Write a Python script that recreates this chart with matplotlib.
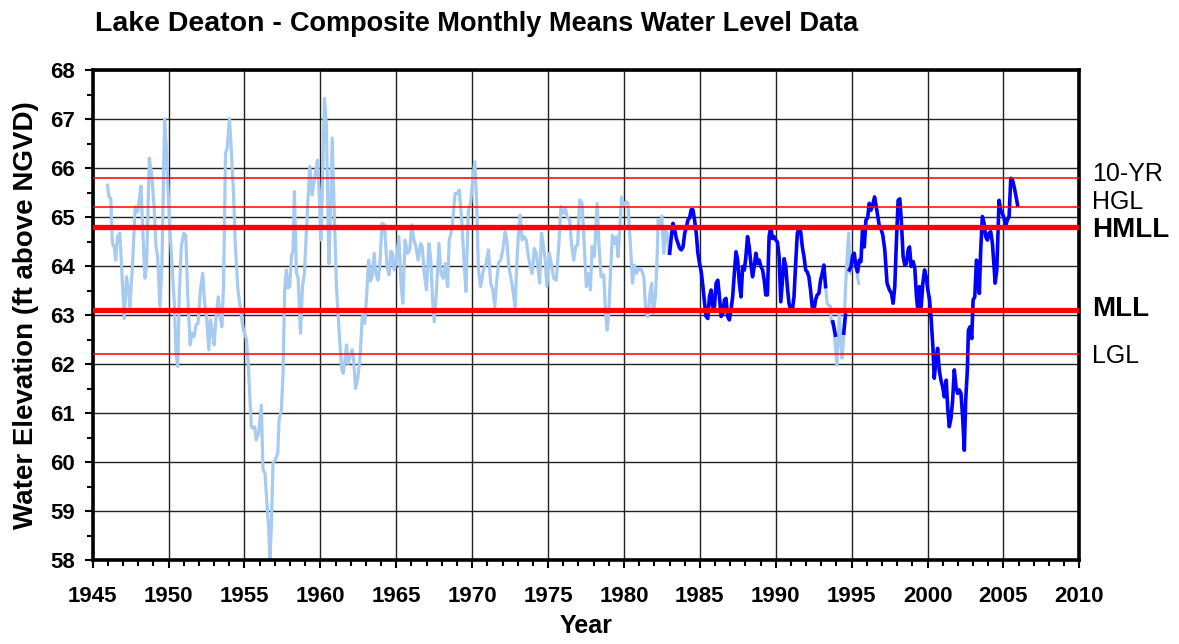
import numpy as np
import matplotlib
matplotlib.use("Agg")
from matplotlib import pyplot as plt
from matplotlib.ticker import MultipleLocator
import matplotlib.transforms as mtransforms

plt.rcParams['font.family'] = ['Liberation Sans', 'DejaVu Sans']

# composite record (light blue)
comp_years = [
    1945.97, 1946.08, 1946.19, 1946.30, 1946.41, 1946.52, 1946.63, 1946.79, 1946.97, 1947.08,
    1947.23, 1947.36, 1947.45, 1947.63, 1947.80, 1947.96, 1948.07, 1948.18, 1948.29, 1948.44,
    1948.55, 1948.73, 1948.88, 1949.06, 1949.17, 1949.28, 1949.43, 1949.56, 1949.74, 1949.87,
    1950.05, 1950.23, 1950.38, 1950.49, 1950.60, 1950.71, 1950.84, 1951.00, 1951.13, 1951.26,
    1951.42, 1951.55, 1951.68, 1951.81, 1951.94, 1952.10, 1952.25, 1952.36, 1952.52, 1952.65,
    1952.76, 1952.87, 1953.00, 1953.13, 1953.27, 1953.40, 1953.51, 1953.62, 1953.75, 1953.86,
    1954.01, 1954.12, 1954.28, 1954.39, 1954.57, 1954.72, 1954.83, 1954.94, 1955.12, 1955.25,
    1955.34, 1955.45, 1955.56, 1955.67, 1955.78, 1955.93, 1956.11, 1956.22, 1956.35, 1956.48,
    1956.59, 1956.68, 1956.77, 1956.88, 1957.06, 1957.19, 1957.28, 1957.43, 1957.54, 1957.65,
    1957.76, 1957.87, 1957.98, 1958.09, 1958.20, 1958.29, 1958.42, 1958.53, 1958.69, 1958.82,
    1958.95, 1959.08, 1959.30, 1959.46, 1959.63, 1959.81, 1959.92, 1960.03, 1960.12, 1960.27,
    1960.40, 1960.56, 1960.67, 1960.78, 1960.91, 1961.07, 1961.24, 1961.40, 1961.50, 1961.61,
    1961.72, 1961.83, 1961.97, 1962.10, 1962.19, 1962.32, 1962.48, 1962.63, 1962.76, 1962.92,
    1963.03, 1963.18, 1963.29, 1963.40, 1963.54, 1963.65, 1963.80, 1963.91, 1964.06, 1964.22,
    1964.39, 1964.53, 1964.64, 1964.75, 1964.86, 1965.01, 1965.17, 1965.30, 1965.43, 1965.58,
    1965.74, 1965.89, 1966.02, 1966.16, 1966.29, 1966.44, 1966.60, 1966.71, 1966.84, 1966.99,
    1967.15, 1967.28, 1967.39, 1967.50, 1967.65, 1967.81, 1967.94, 1968.10, 1968.23, 1968.38,
    1968.49, 1968.65, 1968.76, 1968.87, 1969.02, 1969.15, 1969.31, 1969.46, 1969.59, 1969.75,
    1969.90, 1970.03, 1970.17, 1970.30, 1970.41, 1970.56, 1970.74, 1970.92, 1971.07, 1971.22,
    1971.36, 1971.49, 1971.62, 1971.75, 1971.88, 1972.02, 1972.17, 1972.28, 1972.41, 1972.54,
    1972.68, 1972.83, 1972.94, 1973.05, 1973.16, 1973.29, 1973.43, 1973.56, 1973.67, 1973.82,
    1973.96, 1974.09, 1974.22, 1974.33, 1974.44, 1974.57, 1974.70, 1974.81, 1974.92, 1975.08,
    1975.21, 1975.37, 1975.54, 1975.70, 1975.85, 1975.98, 1976.14, 1976.25, 1976.42, 1976.56,
    1976.69, 1976.82, 1976.95, 1977.08, 1977.24, 1977.39, 1977.52, 1977.68, 1977.79, 1977.90,
    1978.05, 1978.23, 1978.36, 1978.49, 1978.67, 1978.78, 1978.89, 1979.00, 1979.11, 1979.24,
    1979.37, 1979.50, 1979.61, 1979.73, 1979.84, 1979.97, 1980.15, 1980.26, 1980.43, 1980.56,
    1980.69, 1980.82, 1980.98, 1981.15, 1981.31, 1981.44, 1981.58, 1981.71, 1981.82, 1981.93,
    1982.07, 1982.20, 1982.25, 1982.36, 1982.49, 1982.62, 1982.73, 1982.84, 1982.97,
    np.nan,
    1993.28, 1993.38, 1993.49, 1993.60, 1993.67, 1993.82, 1993.93, 1994.02, 1994.11, 1994.19,
    1994.28, 1994.37, 1994.48, 1994.59, 1994.69, 1994.80, 1994.91, 1995.07, 1995.28, 1995.46,
]
comp_levels = [
    65.65, 65.41, 65.38, 64.46, 64.40, 64.12, 64.60, 64.67, 63.58, 62.93,
    63.78, 63.51, 63.17, 64.05, 65.21, 65.10, 65.35, 65.63, 64.80, 63.75,
    64.00, 66.20, 65.89, 65.14, 64.40, 64.19, 63.17, 64.00, 67.00, 66.30,
    64.94, 64.00, 63.24, 62.22, 61.95, 63.44, 64.40, 64.67, 64.63, 63.44,
    62.39, 62.63, 62.56, 62.80, 62.83, 63.51, 63.85, 63.31, 62.90, 62.29,
    62.90, 62.69, 62.39, 62.97, 63.37, 62.97, 62.76, 63.58, 66.30, 66.40,
    67.01, 66.43, 65.48, 64.46, 63.51, 63.17, 62.90, 62.69, 62.52, 62.01,
    61.40, 60.72, 60.69, 60.72, 60.45, 60.59, 61.16, 59.84, 59.77, 59.16,
    58.68, 58.00, 58.68, 59.97, 60.07, 60.18, 60.86, 61.06, 61.81, 63.51,
    63.92, 63.55, 63.58, 64.19, 64.33, 65.52, 63.85, 63.78, 62.63, 63.58,
    63.85, 64.73, 66.03, 65.45, 65.82, 66.16, 65.48, 64.53, 65.48, 67.42,
    66.84, 64.05, 65.14, 66.61, 65.14, 63.51, 62.63, 61.91, 61.81, 62.05,
    62.39, 62.01, 62.18, 62.29, 62.08, 61.50, 61.74, 62.22, 62.97, 62.83,
    63.31, 64.12, 63.69, 63.78, 64.26, 63.85, 63.71, 63.99, 64.87, 64.84,
    63.99, 63.82, 64.30, 64.26, 63.92, 64.12, 64.60, 63.71, 63.24, 64.53,
    64.26, 64.33, 64.84, 64.53, 64.40, 64.12, 64.46, 64.40, 63.85, 63.51,
    64.46, 64.12, 63.31, 62.86, 63.51, 64.46, 63.85, 63.75, 64.05, 63.58,
    64.53, 64.73, 65.07, 65.48, 65.48, 65.55, 64.94, 64.12, 63.48, 65.14,
    65.28, 65.76, 66.13, 65.28, 63.92, 63.58, 63.92, 64.05, 64.33, 63.65,
    63.51, 63.17, 63.71, 64.08, 64.12, 64.33, 64.70, 64.53, 63.99, 63.78,
    63.51, 63.17, 64.05, 64.67, 65.04, 64.53, 64.60, 64.53, 64.26, 63.99,
    63.85, 64.36, 64.26, 63.99, 63.65, 64.67, 64.40, 64.12, 63.58, 64.26,
    64.05, 63.75, 63.71, 64.40, 65.21, 65.07, 65.18, 65.01, 64.94, 64.40,
    64.12, 64.40, 64.43, 65.35, 65.28, 64.40, 63.58, 63.85, 63.51, 64.40,
    64.19, 65.28, 64.40, 63.78, 63.82, 63.10, 62.69, 63.03, 63.85, 64.63,
    64.46, 64.60, 64.19, 64.80, 65.41, 65.24, 65.31, 65.28, 64.40, 63.65,
    64.02, 63.85, 63.95, 63.92, 63.78, 63.03, 62.97, 63.44, 63.65, 63.03,
    63.37, 64.33, 64.94, 64.80, 65.02, 64.26, 64.73, 64.67, 64.26,
    np.nan,
    63.58, 63.24, 63.20, 63.17, 62.86, 62.76, 62.35, 61.98, 62.49, 63.03,
    62.49, 62.12, 62.63, 63.51, 64.12, 64.67, 63.85, 64.22, 63.99, 63.65,
]

# recent monthly record (dark blue)
recent_years = [
    1983.01, 1983.12, 1983.23, 1983.34, 1983.45, 1983.56, 1983.67, 1983.78, 1983.89, 1984.00,
    1984.10, 1984.21, 1984.32, 1984.43, 1984.54, 1984.65, 1984.76, 1984.87, 1984.98, 1985.09,
    1985.20, 1985.31, 1985.41, 1985.52, 1985.63, 1985.74, 1985.85, 1985.96, 1986.07, 1986.18,
    1986.29, 1986.40, 1986.51, 1986.62, 1986.72, 1986.83, 1986.94, 1987.05, 1987.16, 1987.27,
    1987.38, 1987.49, 1987.60, 1987.71, 1987.82, 1987.93, 1988.03, 1988.14, 1988.25, 1988.36,
    1988.47, 1988.58, 1988.69, 1988.80, 1988.91, 1989.02, 1989.13, 1989.24, 1989.34, 1989.45,
    1989.56, 1989.67, 1989.78, 1989.89, 1990.00, 1990.11, 1990.22, 1990.33, 1990.44, 1990.55,
    1990.66, 1990.76, 1990.87, 1990.98, 1991.09, 1991.20, 1991.31, 1991.42, 1991.53, 1991.64,
    1991.75, 1991.86, 1991.97, 1992.07, 1992.18, 1992.29, 1992.40, 1992.51, 1992.62, 1992.73,
    1992.84, 1992.95, 1993.06, 1993.17, 1993.28,
    np.nan, 1993.76, 1993.93,
    np.nan, 1994.48, 1994.59,
    np.nan, 1994.85, 1994.96, 1995.07, 1995.17, 1995.28, 1995.39, 1995.50, 1995.61, 1995.72,
    1995.83, 1995.94, 1996.05, 1996.16, 1996.27, 1996.38, 1996.51, 1996.62, 1996.72, 1996.83,
    1996.89, 1997.05, 1997.18, 1997.33, 1997.49, 1997.62, 1997.73, 1997.84, 1997.95, 1998.06,
    1998.17, 1998.28, 1998.39, 1998.50, 1998.61, 1998.72, 1998.81, 1998.92, 1999.05, 1999.16,
    1999.27, 1999.36, 1999.47, 1999.58, 1999.69, 1999.80, 1999.91, 2000.02, 2000.13, 2000.24,
    2000.35, 2000.44, 2000.55, 2000.66, 2000.77, 2000.88, 2000.99, 2001.10, 2001.23, 2001.32,
    2001.43, 2001.54, 2001.65, 2001.76, 2001.87, 2001.98, 2002.09, 2002.20, 2002.31, 2002.42,
    2002.51, 2002.62, 2002.69, 2002.80, 2002.91, 2003.00, 2003.11, 2003.22, 2003.33, 2003.41,
    2003.50, 2003.61, 2003.72, 2003.83, 2003.94, 2004.05, 2004.16, 2004.27, 2004.38, 2004.45,
    2004.56, 2004.65, 2004.71, 2004.82, 2004.93, 2005.04, 2005.15, 2005.26, 2005.37, 2005.48,
    2005.59, 2005.70, 2005.81, 2005.93,
]
recent_levels = [
    64.26, 64.60, 64.87, 64.73, 64.56, 64.46, 64.36, 64.33, 64.39, 64.67,
    64.77, 64.94, 64.98, 65.15, 65.15, 64.94, 64.67, 64.26, 64.05, 63.88,
    63.58, 63.24, 62.97, 62.93, 63.37, 63.51, 63.17, 63.17, 63.65, 63.71,
    63.37, 62.97, 63.03, 63.31, 63.34, 62.97, 62.90, 63.10, 63.37, 63.85,
    64.29, 64.12, 63.65, 63.37, 63.99, 63.92, 64.19, 64.60, 64.39, 64.05,
    63.78, 63.99, 64.26, 64.05, 64.12, 63.99, 63.92, 63.71, 63.41, 63.41,
    64.60, 64.80, 64.56, 64.60, 64.53, 64.49, 64.19, 63.27, 63.71, 64.15,
    63.99, 63.58, 63.24, 63.10, 63.10, 63.37, 64.05, 64.67, 64.77, 64.70,
    64.39, 64.19, 63.92, 63.88, 63.78, 63.51, 63.17, 63.07, 63.31, 63.41,
    63.44, 63.71, 63.85, 64.02, 63.58,
    np.nan, 62.86, 62.59,
    np.nan, 62.63, 63.00,
    np.nan, 63.92, 63.99, 64.22, 64.26, 63.99, 63.88, 64.12, 64.09, 64.80,
    64.39, 64.94, 64.98, 65.28, 65.14, 65.24, 65.41, 65.21, 65.01, 64.80,
    64.80, 64.63, 64.33, 63.65, 63.51, 63.44, 63.24, 63.58, 64.53, 65.34,
    65.37, 64.87, 64.19, 64.02, 64.05, 64.33, 64.39, 63.99, 64.09, 63.95,
    63.37, 63.10, 63.58, 63.17, 63.65, 63.92, 63.78, 63.51, 63.31, 62.90,
    62.35, 61.71, 62.08, 62.32, 61.88, 61.67, 61.54, 61.33, 61.67, 61.13,
    60.72, 60.89, 61.26, 61.88, 61.54, 61.40, 61.47, 61.40, 60.92, 60.24,
    61.26, 61.88, 62.69, 62.76, 62.52, 63.31, 63.37, 64.12, 63.99, 63.44,
    64.33, 65.01, 64.87, 64.60, 64.53, 64.67, 64.70, 64.46, 63.99, 63.65,
    63.92, 64.80, 65.34, 65.14, 65.07, 64.97, 64.83, 64.94, 65.01, 65.79,
    65.76, 65.62, 65.45, 65.24,
]

# reference levels
ref_names = ['10-YR', 'HGL', 'HMLL', 'MLL', 'LGL']
ref_levels = [65.8, 65.2, 64.8, 63.1, 62.2]
ref_bold = [False, False, True, True, False]
# label heights are nudged a little so the stacked names don't collide
ref_label_y = [65.88, 65.30, 64.74, 63.12, 62.16]

fig = plt.figure(figsize=(11.79, 6.44), dpi=100)
ax = fig.add_axes([0.0786, 0.1304, 0.8369, 0.7609])

ax.plot(comp_years, comp_levels, color='#A6CAF0', lw=2.3, zorder=2)
ax.plot(recent_years, recent_levels, color='#0000FF', lw=2.6, zorder=3)

# red reference lines, with labels outside the right edge
trans = mtransforms.blended_transform_factory(ax.transAxes, ax.transData)
for name, lev, ly, bold in zip(ref_names, ref_levels, ref_label_y, ref_bold):
    ax.axhline(lev, color='#FF0000', lw=3.8 if bold else 1.1, zorder=4)
    ax.text(1.013, ly, name, transform=trans, va='center', ha='left',
            fontsize=20 if bold else 18, fontweight='bold' if bold else 'normal')

ax.set_xlim(1945, 2010)
ax.set_ylim(58, 68)
ax.xaxis.set_major_locator(MultipleLocator(5))
ax.xaxis.set_minor_locator(MultipleLocator(1))
ax.yaxis.set_major_locator(MultipleLocator(1))
ax.yaxis.set_minor_locator(MultipleLocator(0.5))
ax.grid(True, which='major', color='#222222', lw=1.0, zorder=1)
ax.set_axisbelow(True)

ax.tick_params(which='major', direction='out', length=6, width=1.5, labelsize=16)
ax.tick_params(which='minor', direction='out', length=4, width=1.5)
ax.tick_params(axis='x', which='major', pad=13)
ax.tick_params(axis='y', which='major', pad=7)
for lab in ax.get_xticklabels() + ax.get_yticklabels():
    lab.set_fontweight('bold')
for sp in ax.spines.values():
    sp.set_linewidth(2.6)

ax.set_xlabel('Year', fontsize=18, fontweight='bold', labelpad=5)
ax.set_ylabel('Water Elevation (ft above NGVD)', fontsize=20, fontweight='bold', labelpad=8)

# two-part title
t1 = fig.text(95 / 1179, 1 - 31 / 644, 'Lake Deaton - ', fontsize=20.5, fontweight='bold',
              va='baseline', ha='left')
fig.canvas.draw()
bb = t1.get_window_extent()
fig.text(bb.x1 / fig.bbox.width, 1 - 31 / 644, 'Composite Monthly Means Water Level Data',
         fontsize=19.5, fontweight='bold', va='baseline', ha='left')

fig.savefig('out.png', dpi=100)
